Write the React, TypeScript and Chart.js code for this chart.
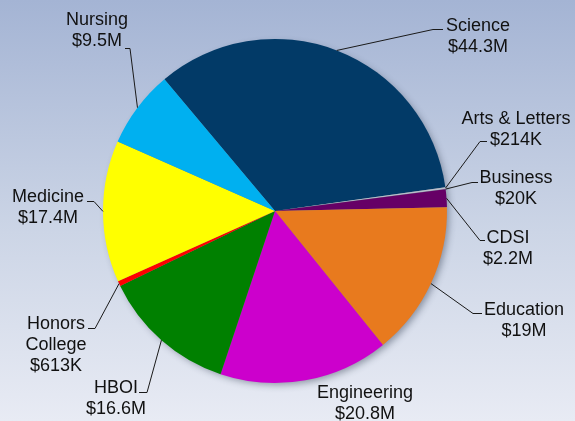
import React, { useEffect, useRef } from "react";
import { Chart, registerables } from "chart.js";

Chart.register(...registerables);

// ---- data ----
const categories = [
  "Science",
  "Arts & Letters",
  "Business",
  "CDSI",
  "Education",
  "Engineering",
  "HBOI",
  "Honors College",
  "Medicine",
  "Nursing",
];
// funding in $ millions
const fundingMillions = [44.3, 0.214, 0.02, 2.2, 19, 20.8, 16.6, 0.613, 17.4, 9.5];
const sliceColors = [
  "#023a67",
  "#b9bfcc",
  "#8a8fa0",
  "#660066",
  "#e87a1e",
  "#cc00cc",
  "#008000",
  "#ff0000",
  "#ffff00",
  "#00b0f0",
];

// ---- label layout (text centre x, first baseline y, elbow point, tick end x, wrap) ----
const labelLayout = [
  { tx: 478, ty: 31, ex: 433, ey: 29, kx: 443, wrap: false },
  { tx: 516, ty: 124, ex: 480, ey: 141, kx: 487, wrap: false },
  { tx: 516, ty: 183, ex: 472, ey: 182, kx: 478, wrap: false },
  { tx: 508, ty: 243, ex: 480, ey: 240, kx: 485, wrap: false },
  { tx: 524, ty: 315, ex: 473, ey: 313, kx: 482, wrap: false },
  { tx: 365, ty: 398, ex: null, ey: null, kx: null, wrap: false },
  { tx: 116, ty: 393, ex: 147, ey: 392, kx: 139, wrap: false },
  { tx: 56, ty: 329, ex: 95, ey: 328, kx: 88, wrap: true },
  { tx: 48, ty: 202, ex: 94, ey: 201, kx: 87, wrap: false },
  { tx: 97, ty: 25, ex: 130, ey: 48, kx: 125, wrap: false },
];

function fmtValue(v: number): string {
  if (v >= 1) return "$" + v + "M";
  return "$" + Math.round(v * 1000) + "K";
}

const bgPlugin = {
  id: "bgGradient",
  beforeDraw(chart: any) {
    const { ctx, width, height } = chart;
    const g = ctx.createLinearGradient(0, 0, 0, height);
    g.addColorStop(0, "#a4b4d4");
    g.addColorStop(0.55, "#ccd5e6");
    g.addColorStop(1, "#e8ebf4");
    ctx.save();
    ctx.fillStyle = g;
    ctx.fillRect(0, 0, width, height);
    ctx.restore();
  },
  beforeDatasetsDraw(chart: any) {
    const meta = chart.getDatasetMeta(0);
    const arc = meta.data[0];
    if (!arc) return;
    const { x, y, outerRadius } = arc.getProps(["x", "y", "outerRadius"], true);
    const ctx = chart.ctx;
    ctx.save();
    ctx.shadowColor = "rgba(40,50,70,0.45)";
    ctx.shadowBlur = 7;
    ctx.shadowOffsetX = 3;
    ctx.shadowOffsetY = 3;
    ctx.fillStyle = "#7a8090";
    ctx.beginPath();
    ctx.arc(x, y, outerRadius - 1, 0, Math.PI * 2);
    ctx.fill();
    ctx.restore();
  },
};

const labelPlugin = {
  id: "leaderLabels",
  afterDatasetsDraw(chart: any) {
    const ctx = chart.ctx;
    const meta = chart.getDatasetMeta(0);
    const values = chart.data.datasets[0].data as number[];
    const labels = chart.data.labels as string[];
    ctx.save();
    ctx.font = '18px "Liberation Sans", Arial, sans-serif';
    ctx.fillStyle = "#111111";
    ctx.strokeStyle = "#1a1a1a";
    ctx.lineWidth = 1;
    ctx.textAlign = "center";
    ctx.textBaseline = "alphabetic";
    meta.data.forEach((arc: any, i: number) => {
      const L = labelLayout[i];
      const p = arc.getProps(["x", "y", "startAngle", "endAngle", "outerRadius"], true);
      const mid = (p.startAngle + p.endAngle) / 2;
      const ax = p.x + p.outerRadius * Math.cos(mid);
      const ay = p.y + p.outerRadius * Math.sin(mid);
      if (L.ex !== null) {
        ctx.beginPath();
        ctx.moveTo(ax, ay);
        ctx.lineTo(L.ex, L.ey + 0.5);
        ctx.lineTo(L.kx, L.ey + 0.5);
        ctx.stroke();
      }
      const lines = L.wrap ? labels[i].split(" ") : [labels[i]];
      lines.push(fmtValue(values[i]));
      lines.forEach((t, k) => {
        ctx.fillText(t, L.tx, L.ty + k * 21);
      });
    });
    ctx.restore();
  },
};

export default function App() {
  const ref = useRef<HTMLCanvasElement | null>(null);
  useEffect(() => {
    document.body.style.margin = "0";
    if (!ref.current) return;
    const chart = new Chart(ref.current, {
      type: "pie",
      data: {
        labels: categories,
        datasets: [
          {
            data: fundingMillions,
            backgroundColor: sliceColors,
            borderWidth: 0,
          },
        ],
      },
      options: {
        responsive: false,
        animation: false,
        rotation: -40,
        layout: { padding: { left: 103, right: 128, top: 39, bottom: 38 } },
        plugins: {
          legend: { display: false },
          tooltip: { enabled: false },
        },
      },
      plugins: [bgPlugin, labelPlugin],
    });
    return () => chart.destroy();
  }, []);
  return (
    <div style={{ position: "fixed", left: 0, top: 0, width: 575, height: 421 }}>
      <canvas ref={ref} width={575} height={421} />
    </div>
  );
}
